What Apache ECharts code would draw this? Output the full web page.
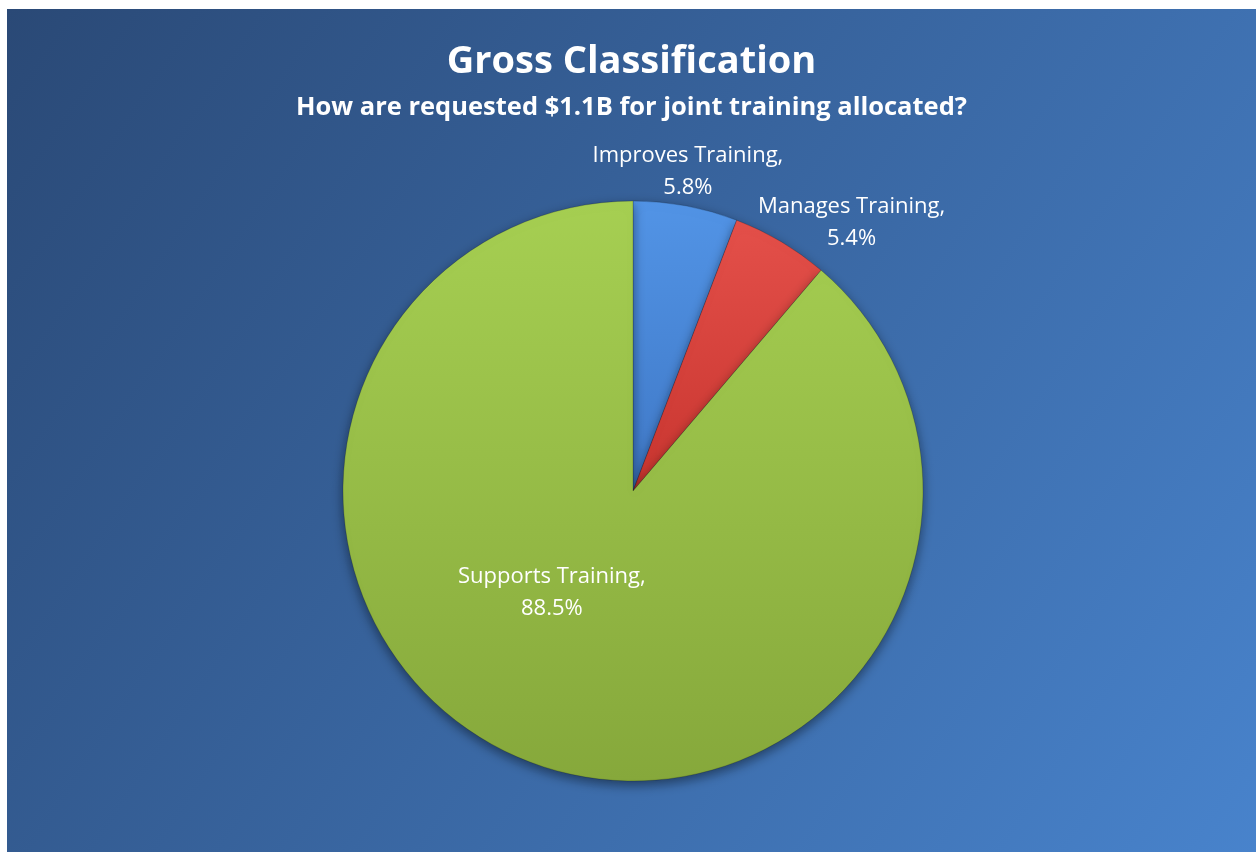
<!DOCTYPE html>
<html>
<head>
<meta charset="utf-8">
<script src="https://cdn.jsdelivr.net/npm/echarts@6/dist/echarts.min.js"></script>
<style>
  html, body { margin: 0; padding: 0; background: #ffffff; }
  #chart { position: absolute; left: 7px; top: 9px; width: 1249px; height: 843px; }
</style>
</head>
<body>
<div id="chart"></div>
<script>
const categories = ['Improves Training', 'Manages Training', 'Supports Training'];
const values = [5.8, 5.4, 88.5];
const titleText = 'Gross Classification';
const subtitleText = 'How are requested $1.1B for joint training allocated?';

const sliceColors = [
  ['#5294e6', '#3f78c6'],
  ['#e4504a', '#c8352f'],
  ['#a6cf52', '#86a83b']
];
const labelOffsets = [[28, -174], [143, -141], [-30, -37]];

const chart = echarts.init(document.getElementById('chart'));
const data = categories.map((name, i) => ({
  name: name,
  value: values[i],
  itemStyle: {
    color: new echarts.graphic.LinearGradient(0, 0, 0, 1, [
      { offset: 0, color: sliceColors[i][0] },
      { offset: 1, color: sliceColors[i][1] }
    ])
  },
  label: { offset: labelOffsets[i] }
}));

chart.setOption({
  backgroundColor: new echarts.graphic.LinearGradient(0, 0, 1, 1, [
    { offset: 0, color: '#2a4976' },
    { offset: 1, color: '#4883cc' }
  ]),
  title: {
    text: titleText,
    subtext: subtitleText,
    left: 'center',
    top: 29,
    itemGap: 14,
    textStyle: { fontFamily: 'Open Sans', fontWeight: 'bold', fontSize: 38, color: '#ffffff' },
    subtextStyle: { fontFamily: 'Open Sans', fontWeight: 'bold', fontSize: 25.5, color: '#ffffff' }
  },
  series: [{
    type: 'pie',
    center: [626, 482],
    radius: [0, 290],
    startAngle: 90,
    clockwise: true,
    avoidLabelOverlap: false,
    data: data,
    animation: false,
    itemStyle: {
      borderColor: 'rgba(0,0,0,0.18)',
      borderWidth: 1,
      shadowBlur: 12,
      shadowOffsetY: 4,
      shadowColor: 'rgba(0,0,0,0.45)'
    },
    label: {
      show: true,
      position: 'inside',
      formatter: '{b},\n{c}%',
      fontFamily: 'Open Sans',
      fontSize: 22,
      lineHeight: 32,
      color: '#ffffff',
      align: 'center'
    },
    labelLayout: { hideOverlap: false },
    labelLine: { show: false },
    emphasis: { disabled: true }
  }]
});
</script>
</body>
</html>
